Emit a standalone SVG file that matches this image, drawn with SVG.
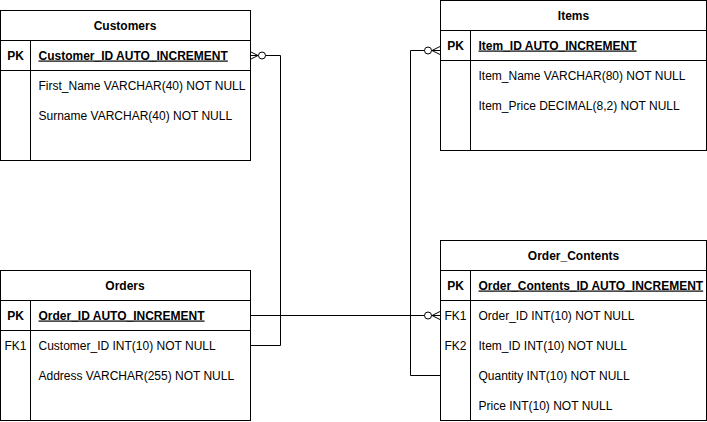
<svg xmlns="http://www.w3.org/2000/svg" width="707" height="422" viewBox="0 0 707 422">
<style>
  .box{fill:#fff;stroke:#000;stroke-width:1}
  .ln{fill:none;stroke:#000;stroke-width:1}
  text{font-family:"Liberation Sans",Arial,Helvetica,sans-serif;font-size:12px;fill:#000}
  .t{font-weight:bold;text-anchor:middle}
  .k{text-anchor:middle}
  .pk{font-weight:bold}
  .u{text-decoration:underline}
  .c{fill:none;stroke:#000;stroke-width:1;marker-start:url(#zm)}
</style>
<defs>
  <marker id="zm" markerUnits="userSpaceOnUse" markerWidth="20" markerHeight="12" refX="0" refY="0" viewBox="-1 -6 20 12" orient="auto" overflow="visible">
    <path d="M0 -4 L8 0 M0 4 L8 0 M0 0 L8 0" fill="none" stroke="#000" stroke-width="1"/>
    <circle cx="12" cy="0" r="3.5" fill="#fff" stroke="#000" stroke-width="1"/>
  </marker>
</defs>
<g id="connectors">
  <path class="c" d="M250 55.5 H280.5 V345.5 H250"/>
  <path class="c" d="M440 315.5 H250"/>
  <path class="c" d="M440 50.5 H410.5 V375.5 H440"/>
</g>
<g id="customers">
  <rect class="box" x="0.5" y="10.5" width="250" height="150"/>
  <path class="ln" d="M0.5 40.5 H250.5 M0.5 70.5 H250.5 M30.5 40.5 V160.5"/>
  <text class="t" x="125" y="29.5">Customers</text>
  <text class="k pk" x="15.5" y="59.5">PK</text>
  <text class="pk u" x="38.5" y="59.5">Customer_ID AUTO_INCREMENT</text>
  <text x="38.5" y="89.5">First_Name VARCHAR(40) NOT NULL</text>
  <text x="38.5" y="119.5">Surname VARCHAR(40) NOT NULL</text>
</g>
<g id="orders">
  <rect class="box" x="0.5" y="270.5" width="250" height="150"/>
  <path class="ln" d="M0.5 300.5 H250.5 M0.5 330.5 H250.5 M30.5 300.5 V420.5"/>
  <text class="t" x="125" y="289.5">Orders</text>
  <text class="k pk" x="15.5" y="319.5">PK</text>
  <text class="pk u" x="38.5" y="319.5">Order_ID AUTO_INCREMENT</text>
  <text class="k" x="15.5" y="349.5">FK1</text>
  <text x="38.5" y="349.5">Customer_ID INT(10) NOT NULL</text>
  <text x="38.5" y="379.5">Address VARCHAR(255) NOT NULL</text>
</g>
<g id="items">
  <rect class="box" x="440.5" y="0.5" width="266" height="150"/>
  <path class="ln" d="M440.5 30.5 H706.5 M440.5 60.5 H706.5 M470.5 30.5 V150.5"/>
  <text class="t" x="573.5" y="19.5">Items</text>
  <text class="k pk" x="455.5" y="49.5">PK</text>
  <text class="pk u" x="478.5" y="49.5">Item_ID AUTO_INCREMENT</text>
  <text x="478.5" y="79.5">Item_Name VARCHAR(80) NOT NULL</text>
  <text x="478.5" y="109.5">Item_Price DECIMAL(8,2) NOT NULL</text>
</g>
<g id="order_contents">
  <rect class="box" x="440.5" y="240.5" width="266" height="180"/>
  <path class="ln" d="M440.5 270.5 H706.5 M440.5 300.5 H706.5 M470.5 270.5 V420.5"/>
  <text class="t" x="573.5" y="259.5">Order_Contents</text>
  <text class="k pk" x="455.5" y="289.5">PK</text>
  <text class="pk u" x="478.5" y="289.5">Order_Contents_ID AUTO_INCREMENT</text>
  <text class="k" x="455.5" y="319.5">FK1</text>
  <text x="478.5" y="319.5">Order_ID INT(10) NOT NULL</text>
  <text class="k" x="455.5" y="349.5">FK2</text>
  <text x="478.5" y="349.5">Item_ID INT(10) NOT NULL</text>
  <text x="478.5" y="379.5">Quantity INT(10) NOT NULL</text>
  <text x="478.5" y="409.5">Price INT(10) NOT NULL</text>
</g>
</svg>
